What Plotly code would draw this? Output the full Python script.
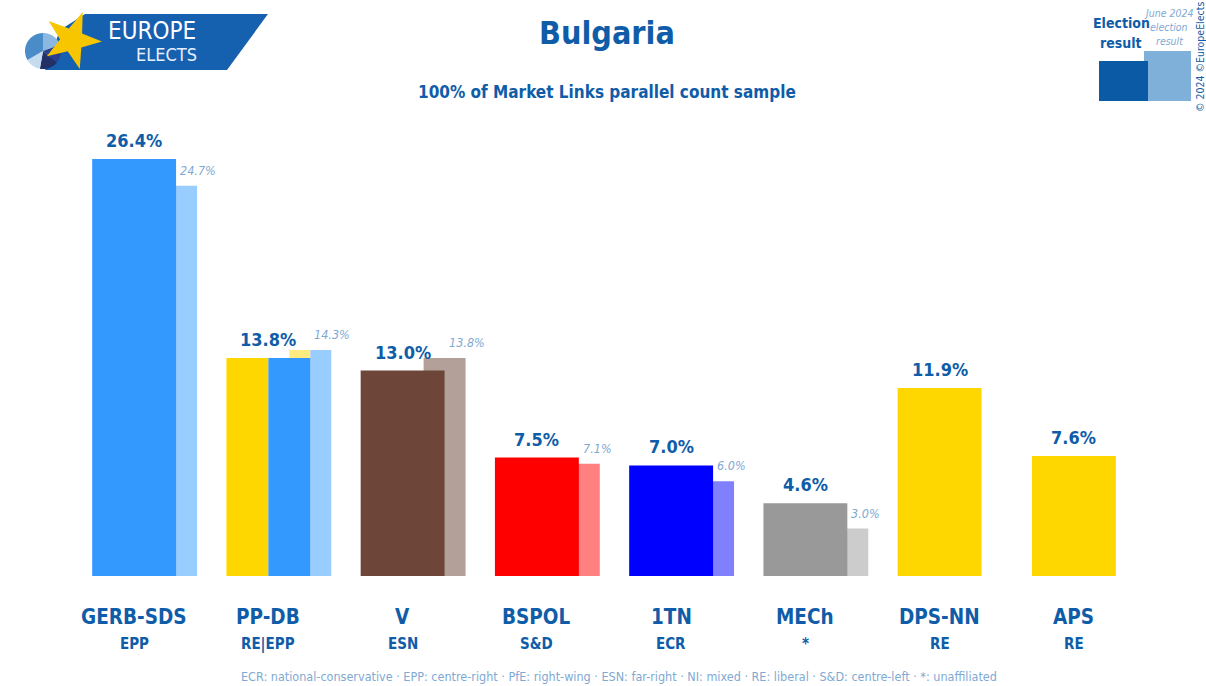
import numpy as np
import plotly.graph_objects as go

# ---------------- data ----------------
parties = ["GERB-SDS", "PP-DB", "V", "BSPOL", "1TN", "MECh", "DPS-NN", "APS"]
groups = ["EPP", "RE|EPP", "ESN", "S&D", "ECR", "*", "RE", "RE"]
results = [26.4, 13.8, 13.0, 7.5, 7.0, 4.6, 11.9, 7.6]
previous = [24.7, 14.3, 13.8, 7.1, 6.0, 3.0, None, None]
main_colors = [["#3399ff"], ["#ffd700", "#3399ff"], ["#6e4639"], ["#ff0000"],
               ["#0000ff"], ["#999999"], ["#ffd700"], ["#ffd700"]]
prev_colors = [["#99ccff"], ["#ffeb80", "#99ccff"], ["#b3a199"], ["#ff8080"],
               ["#8080ff"], ["#cccccc"], [], []]
footer = ("ECR: national-conservative · EPP: centre-right · PfE: right-wing · ESN: far-right · "
          "NI: mixed · RE: liberal · S&D: centre-left · *: unaffiliated")

# ---------------- layout constants ----------------
W, H = 1206, 686
ML, MR, MT, MB = 67, 65, 102, 110
PW, PH = W - ML - MR, H - MT - MB
BLUE = "#0f5ca8"
LIGHT = "#7fa9d3"
FONT = "DejaVu Sans Condensed, Liberation Sans Narrow, Roboto, sans-serif"
MAIN_W = 0.625
PREV_W = 0.3125
PREV_OFF = 0.15625


def px(x):
    return (x - ML) / PW


def py(y):
    return (H - MB - y) / PH


fig = go.Figure()

# previous-result bars (behind)
for i, (v, cols) in enumerate(zip(previous, prev_colors)):
    if v is None:
        continue
    n = len(cols)
    w = PREV_W / n
    for k, c in enumerate(cols):
        fig.add_trace(go.Bar(x=[i], y=[v], width=w, offset=PREV_OFF + k * w,
                             marker=dict(color=c, line=dict(width=0)),
                             hoverinfo="skip", showlegend=False))

# current result bars (front)
for i, (v, cols) in enumerate(zip(results, main_colors)):
    n = len(cols)
    w = MAIN_W / n
    for k, c in enumerate(cols):
        fig.add_trace(go.Bar(x=[i], y=[v], width=w, offset=-MAIN_W / 2 + k * w,
                             marker=dict(color=c, line=dict(width=0)),
                             hovertemplate=f"{parties[i]}: {v}%<extra></extra>",
                             showlegend=False))

ann = []
for i, v in enumerate(results):
    ann.append(dict(x=i, y=v, xref="x", yref="y", text=f"<b>{v:.1f}%</b>",
                    showarrow=False, yanchor="bottom", yshift=6,
                    font=dict(family=FONT, size=18, color=BLUE)))
    ann.append(dict(x=i, y=0, xref="x", yref="y", text=f"<b>{parties[i]}</b>",
                    showarrow=False, yanchor="middle", yshift=-41,
                    font=dict(family=FONT, size=20.5, color=BLUE)))
    ann.append(dict(x=i, y=0, xref="x", yref="y", text=f"<b>{groups[i]}</b>",
                    showarrow=False, yanchor="middle", yshift=-68,
                    font=dict(family=FONT, size=15, color=BLUE)))
for i, v in enumerate(previous):
    if v is None:
        continue
    ann.append(dict(x=i + MAIN_W / 2, y=v, xref="x", yref="y", text=f"<i>{v:.1f}%</i>",
                    showarrow=False, xanchor="left", yanchor="bottom", yshift=6, xshift=2,
                    font=dict(family=FONT, size=12.5, color=LIGHT)))


def txt(x, y, text, size, color, **kw):
    d = dict(x=px(x), y=py(y), xref="paper", yref="paper", text=text, showarrow=False,
             xanchor="center", yanchor="middle", font=dict(family=FONT, size=size, color=color))
    d.update(kw)
    return d


ann += [
    txt(607, 33, "<b>Bulgaria</b>", 32, BLUE),
    txt(607, 92, "<b>100% of Market Links parallel count sample</b>", 17, BLUE),
    txt(619, 676, footer, 12.5, LIGHT),
    # logo text
    txt(152, 31, "EUROPE", 24, "white"),
    txt(166, 55, "ELECTS", 18, "#e8f0ff"),
    # legend box text
    txt(1121, 23, "<b>Election</b>", 14, BLUE),
    txt(1121, 43, "<b>result</b>", 14, BLUE),
    txt(1169, 13, "<i>June 2024</i>", 10.5, LIGHT),
    txt(1169, 27, "<i>election</i>", 10.5, LIGHT),
    txt(1169, 41, "<i>result</i>", 10.5, LIGHT),
    txt(1200, 57, "© 2024 ©EuropeElects", 10.5, BLUE, textangle=-90),
]


def path(pts):
    return "M " + " L ".join(f"{px(a):.5f},{py(b):.5f}" for a, b in pts) + " Z"


def wedge(cx, cy, r, a0, a1):
    ang = np.linspace(np.deg2rad(a0), np.deg2rad(a1), 16)
    return [(cx, cy)] + [(cx + r * np.cos(a), cy + r * np.sin(a)) for a in ang]


shapes = []
# legend squares
shapes.append(dict(type="rect", xref="paper", yref="paper", x0=px(1144), x1=px(1191),
                   y0=py(101), y1=py(51), fillcolor="#7fb0d9", line=dict(width=0)))
shapes.append(dict(type="rect", xref="paper", yref="paper", x0=px(1099), x1=px(1148),
                   y0=py(101), y1=py(61), fillcolor="#0b5aa6", line=dict(width=0)))
# logo banner
shapes.append(dict(type="path", xref="paper", yref="paper",
                   path=path([(85, 14), (268, 14), (227, 70), (45, 70), (60, 30)]),
                   fillcolor="#1660b0", line=dict(width=0)))
# pie
cx, cy, r = 43, 51, 18
for a0, a1, col in [(-90, -20, "#8ab8e0"), (-20, 40, "#2c3f8f"), (40, 100, "#223066"),
                    (100, 150, "#c5dcf0"), (150, 270, "#4a8cc8")]:
    shapes.append(dict(type="path", xref="paper", yref="paper", path=path(wedge(cx, cy, r, a0, a1)),
                       fillcolor=col, line=dict(width=0)))
# star
scx, scy, ro, ri = 72, 40, 30, 12
star = []
for k in range(10):
    a = np.deg2rad(-69 + k * 36)
    rr = ro if k % 2 == 0 else ri
    star.append((scx + rr * np.cos(a), scy + rr * np.sin(a)))
shapes.append(dict(type="path", xref="paper", yref="paper", path=path(star),
                   fillcolor="#f7c600", line=dict(width=0)))

fig.update_layout(
    width=W, height=H,
    margin=dict(l=ML, r=MR, t=MT, b=MB),
    paper_bgcolor="white", plot_bgcolor="white",
    barmode="overlay",
    xaxis=dict(range=[-0.5, len(parties) - 0.5], visible=False, fixedrange=True),
    yaxis=dict(range=[0, 30], visible=False, fixedrange=True),
    annotations=ann, shapes=shapes,
    showlegend=False,
)

fig.write_html("out.html", config={"displayModeBar": False},
               post_script="document.body.style.margin='0px';")
